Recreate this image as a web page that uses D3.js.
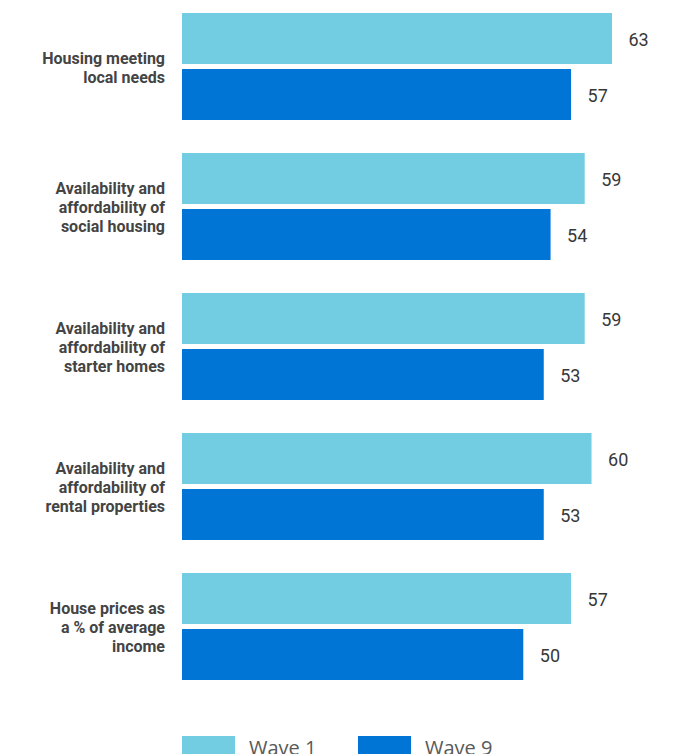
<!DOCTYPE html>
<html><head><meta charset="utf-8">
<script src="https://cdn.jsdelivr.net/npm/d3@7"></script>
<style>html,body{margin:0;padding:0;background:#fff;}</style>
</head><body>
<script>
const categories = [
  ["Housing meeting", "local needs"],
  ["Availability and", "affordability of", "social housing"],
  ["Availability and", "affordability of", "starter homes"],
  ["Availability and", "affordability of", "rental properties"],
  ["House prices as", "a % of average", "income"]
];
const seriesNames = ["Wave 1", "Wave 9"];
const wave1 = [63, 59, 59, 60, 57];
const wave9 = [57, 54, 53, 53, 50];
const colors = ["#72cde2", "#0075d6"];

const W = 687, H = 754;
const svg = d3.select("body").append("svg").attr("width", W).attr("height", H);

const keys = categories.map((c, i) => "c" + i);
const y0 = d3.scaleBand().domain(keys).range([13, 680]).paddingInner(0.2357).paddingOuter(0);
const y1 = d3.scaleBand().domain(seriesNames).range([0, y0.bandwidth()]).paddingInner(5 / 56).paddingOuter(0);
const x = d3.scaleLinear().domain([0, 63]).range([182, 612]);

const data = categories.map((c, i) => ({ key: keys[i], lines: c, values: [wave1[i], wave9[i]] }));

const g = svg.selectAll("g.grp").data(data).join("g").attr("class", "grp")
  .attr("transform", d => `translate(0,${y0(d.key)})`);

g.selectAll("rect").data(d => d.values.map((v, j) => ({ v, s: seriesNames[j], j })))
  .join("rect")
  .attr("x", x(0))
  .attr("y", d => y1(d.s))
  .attr("width", d => x(d.v) - x(0))
  .attr("height", y1.bandwidth())
  .attr("fill", d => colors[d.j]);

g.selectAll("text.val").data(d => d.values.map((v, j) => ({ v, s: seriesNames[j] })))
  .join("text").attr("class", "val")
  .attr("x", d => x(d.v) + 16.5)
  .attr("y", d => y1(d.s) + y1.bandwidth() / 2 + 1)
  .attr("dy", "0.35em")
  .attr("font-family", "Roboto, sans-serif")
  .attr("font-size", 18)
  .attr("fill", "#383838")
  .text(d => d.v);

g.each(function (d) {
  const t = d3.select(this).append("text")
    .attr("text-anchor", "end")
    .attr("font-family", "Roboto, sans-serif")
    .attr("font-weight", "bold")
    .attr("font-size", 16)
    .attr("fill", "#444444");
  const lh = 19;
  const mid = y0.bandwidth() / 2 + 1;
  const start = mid - (d.lines.length - 1) * lh / 2;
  d.lines.forEach((l, k) => {
    t.append("tspan").attr("x", 165).attr("y", start + k * lh).attr("dy", "0.35em").text(l);
  });
});

// legend
const legX = [182, 358];
const leg = svg.selectAll("g.leg").data(seriesNames).join("g").attr("class", "leg")
  .attr("transform", (d, i) => `translate(${legX[i]},736)`);
leg.append("rect").attr("width", 53).attr("height", 24).attr("fill", (d, i) => colors[i]);
leg.append("text").attr("x", 67).attr("y", 18.5)
  .attr("font-family", "'Open Sans', sans-serif").attr("font-size", 20)
  .attr("fill", "#595959").text(d => d);
</script>
</body></html>
